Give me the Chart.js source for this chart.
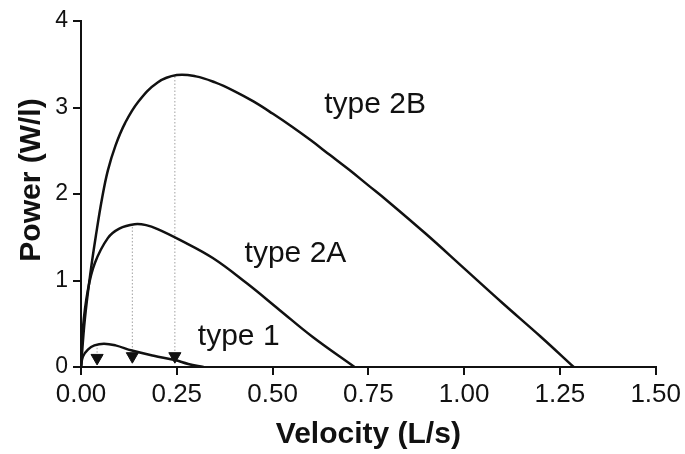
<!DOCTYPE html>
<html>
<head>
<meta charset="utf-8">
<script src="https://cdn.jsdelivr.net/npm/chart.js@4.4.1/dist/chart.umd.min.js"></script>
<style>
  html, body { margin: 0; padding: 0; background: #fff; }
</style>
</head>
<body>
<canvas id="myChart_Power" width="685" height="454"></canvas>
<script>
// curves: velocity (L/s) vs power (W/l)
var velocity2B = [0, 0.01, 0.025, 0.04, 0.055, 0.07, 0.09, 0.115, 0.15, 0.2, 0.25, 0.3, 0.35, 0.4, 0.45, 0.5, 0.55, 0.6, 0.65, 0.7, 0.75, 0.8, 0.9, 1.0, 1.1, 1.2, 1.286];
var power2B    = [0, 0.55, 1.1, 1.55, 1.95, 2.27, 2.56, 2.82, 3.07, 3.29, 3.375, 3.36, 3.29, 3.19, 3.07, 2.93, 2.78, 2.62, 2.45, 2.28, 2.10, 1.92, 1.54, 1.14, 0.74, 0.35, 0];

var velocity2A = [0, 0.005, 0.018, 0.036, 0.07, 0.1, 0.14, 0.17, 0.2, 0.258, 0.344, 0.432, 0.518, 0.604, 0.714];
var power2A    = [0, 0.45, 0.89, 1.2, 1.49, 1.6, 1.65, 1.64, 1.595, 1.47, 1.26, 0.97, 0.66, 0.35, 0];

var velocity1 = [0, 0.005, 0.018, 0.035, 0.06, 0.09, 0.133, 0.19, 0.245, 0.28, 0.32];
var power1    = [0, 0.12, 0.2, 0.25, 0.27, 0.25, 0.19, 0.13, 0.08, 0.035, 0];

// optimal velocity markers (arrows) and the peak power they point down from
var optVelocity = [0.042, 0.134, 0.245];
var arrowPower  = [0.105, 0.125, 0.125];
var peakPower   = [0.27, 1.65, 3.37];

var xTicks = [0, 0.25, 0.5, 0.75, 1.0, 1.25, 1.5];
var yTicks = [0, 1, 2, 3, 4];

var FONT = '"Liberation Sans", Arial, Helvetica, sans-serif';

function toPoints(xs, ys) {
  return xs.map(function (v, i) { return { x: v, y: ys[i] }; });
}

function curve(xs, ys) {
  return {
    type: "line",
    data: toPoints(xs, ys),
    borderColor: "#111",
    borderWidth: 2.5,
    pointRadius: 0,
    tension: 0.4,
    fill: false,
  };
}

var datasets = [curve(velocity2B, power2B), curve(velocity2A, power2A), curve(velocity1, power1)];

// dotted guides from each peak down to its arrow
optVelocity.forEach(function (v, i) {
  datasets.push({
    type: "line",
    data: [{ x: v, y: arrowPower[i] + 0.06 }, { x: v, y: peakPower[i] }],
    borderColor: "#a0a0a0",
    borderWidth: 1,
    borderDash: [1.5, 2],
    pointRadius: 0,
  });
});

datasets.push({
  type: "scatter",
  data: toPoints(optVelocity, arrowPower),
  pointStyle: "triangle",
  rotation: 180,
  pointRadius: 7,
  backgroundColor: "#111",
  borderColor: "#111",
  borderWidth: 1,
});

var labelsPlugin = {
  id: "curveLabels",
  afterDraw: function (chart) {
    var ctx = chart.ctx;
    var x = chart.scales.x;
    var y = chart.scales.y;
    ctx.save();
    ctx.fillStyle = "#111";
    ctx.textBaseline = "alphabetic";
    ctx.textAlign = "left";
    ctx.font = "30px " + FONT;
    ctx.fillText("type 2B", x.getPixelForValue(0.635), y.getPixelForValue(2.94));
    ctx.fillText("type 2A", x.getPixelForValue(0.427), y.getPixelForValue(1.21));
    ctx.fillText("type 1", x.getPixelForValue(0.305), y.getPixelForValue(0.25));

    // axis titles
    ctx.font = "bold 30px " + FONT;
    ctx.textAlign = "center";
    ctx.fillText("Velocity (L/s)", (x.left + x.right) / 2, 443);
    ctx.translate(40, 180);
    ctx.rotate(-Math.PI / 2);
    ctx.fillText("Power (W/l)", 0, 0);
    ctx.restore();
  },
};

var ctx_Pow = document.getElementById("myChart_Power").getContext("2d");
var chartPower = new Chart(ctx_Pow, {
  data: { datasets: datasets },
  plugins: [labelsPlugin],
  options: {
    responsive: false,
    animation: false,
    layout: { padding: { left: 0, top: 21, right: 27, bottom: 0 } },
    plugins: { legend: { display: false }, tooltip: { enabled: false } },
    scales: {
      x: {
        type: "linear",
        min: 0,
        max: 1.5,
        afterBuildTicks: function (scale) {
          scale.ticks = xTicks.map(function (v) { return { value: v }; });
        },
        afterFit: function (scale) { scale.height = 87; },
        ticks: {
          color: "#111",
          font: { family: FONT, size: 26 },
          padding: 4,
          maxRotation: 0,
          callback: function (v) { return Number(v).toFixed(2); },
        },
        grid: { drawOnChartArea: false, drawTicks: true, tickLength: 8, color: "#111", lineWidth: 2 },
        border: { color: "#111", width: 2 },
      },
      y: {
        type: "linear",
        min: 0,
        max: 4,
        afterBuildTicks: function (scale) {
          scale.ticks = yTicks.map(function (v) { return { value: v }; });
        },
        afterFit: function (scale) { scale.width = 81; },
        ticks: {
          color: "#111",
          font: { family: FONT, size: 23 },
          padding: 5,
          callback: function (v) { return String(v); },
        },
        grid: { drawOnChartArea: false, drawTicks: true, tickLength: 8, color: "#111", lineWidth: 2 },
        border: { color: "#111", width: 2 },
      },
    },
  },
});
</script>
</body>
</html>
